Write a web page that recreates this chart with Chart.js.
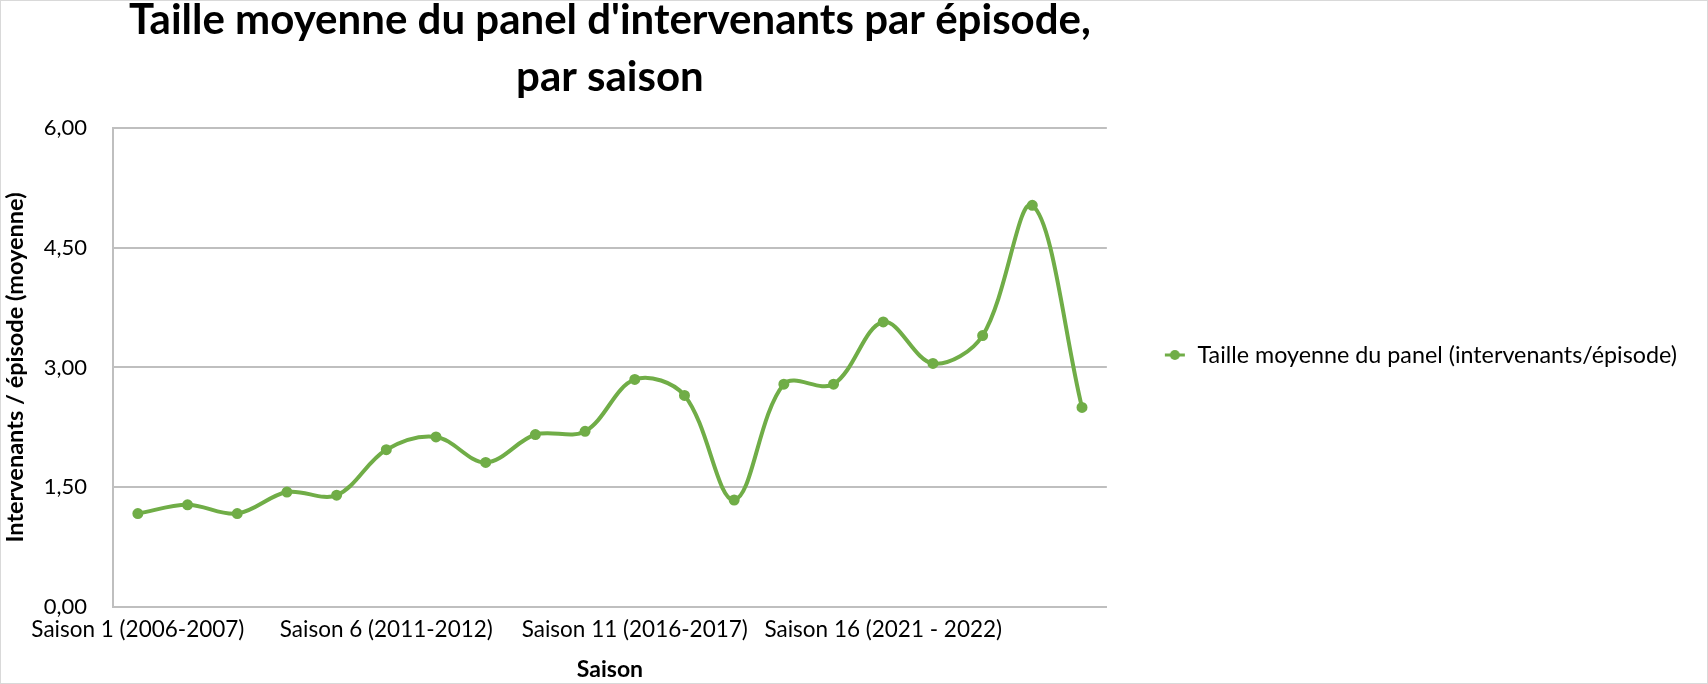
<!DOCTYPE html>
<html lang="fr">
<head>
<meta charset="utf-8">
<title>Taille moyenne du panel</title>
<script src="https://cdn.jsdelivr.net/npm/chart.js@4.4.1/dist/chart.umd.min.js"></script>
<style>
    html, body { margin: 0; padding: 0; background: #fff; }
    #wrap {
        width: 1708px;
        height: 684px;
        box-sizing: border-box;
        border: 1px solid #d9d9d9;
        position: relative;
    }
    canvas { display: block; }
</style>
</head>
<body>
<div id="wrap"><canvas id="panelChart"></canvas></div>
<script>
// Saisons (20 catégories)
const seasons = [
    'Saison 1 (2006-2007)', 'Saison 2 (2007-2008)', 'Saison 3 (2008-2009)',
    'Saison 4 (2009-2010)', 'Saison 5 (2010-2011)', 'Saison 6 (2011-2012)',
    'Saison 7 (2012-2013)', 'Saison 8 (2013-2014)', 'Saison 9 (2014-2015)',
    'Saison 10 (2015-2016)', 'Saison 11 (2016-2017)', 'Saison 12 (2017-2018)',
    'Saison 13 (2018-2019)', 'Saison 14 (2019-2020)', 'Saison 15 (2020-2021)',
    'Saison 16 (2021 - 2022)', 'Saison 17 (2022 - 2023)', 'Saison 18 (2023 - 2024)',
    'Saison 19 (2024 - 2025)', 'Saison 20 (2025 - 2026)'
];

// intervenants / épisode (moyenne)
const panelSize = [
    1.17, 1.28, 1.17, 1.44, 1.40, 1.97, 2.13, 1.81, 2.16, 2.20,
    2.85, 2.65, 1.34, 2.79, 2.79, 3.57, 3.05, 3.40, 5.03, 2.50
];

const yTicks = [0, 1.5, 3, 4.5, 6];

const seriesName = 'Taille moyenne du panel (intervenants/épisode)';
const chartTitle = ["Taille moyenne du panel d'intervenants par épisode,", 'par saison'];
const xTitle = 'Saison';
const yTitle = 'Intervenants / épisode (moyenne)';

const green = '#70ad47';
const gridGray = '#bfbfbf';
const FONT = "Lato, 'Open Sans', sans-serif";

// legend marker: short line with a dot, like Excel
function legendMarker() {
    const c = document.createElement('canvas');
    c.width = 22;
    c.height = 12;
    const g = c.getContext('2d');
    g.strokeStyle = green;
    g.lineWidth = 3;
    g.beginPath();
    g.moveTo(1, 6);
    g.lineTo(21, 6);
    g.stroke();
    g.fillStyle = green;
    g.beginPath();
    g.arc(11, 6, 5, 0, Math.PI * 2);
    g.fill();
    return c;
}

Chart.defaults.font.family = FONT;
Chart.defaults.color = '#000';

const ctx = document.getElementById('panelChart').getContext('2d');
const frNum = new Intl.NumberFormat('fr-FR', { minimumFractionDigits: 2, maximumFractionDigits: 2 });

new Chart(ctx, {
    type: 'line',
    data: {
        labels: seasons,
        datasets: [{
            label: seriesName,
            data: panelSize,
            borderColor: green,
            backgroundColor: green,
            borderWidth: 4,
            tension: 0.35,
            pointRadius: 4.5,
            pointBorderWidth: 2,
            pointBackgroundColor: green,
            pointBorderColor: green,
            fill: false
        }]
    },
    options: {
        responsive: true,
        maintainAspectRatio: false,
        animation: false,
        layout: {
            // right padding: plot should end near x=1107
            padding: { left: 0, right: 20, top: 0, bottom: 0 }
        },
        plugins: {
            title: {
                display: true,
                text: chartTitle,
                fullSize: false,
                color: '#000',
                font: { size: 42, weight: 'bold', lineHeight: 1.38 },
                padding: { top: -10, bottom: 21 }
            },
            legend: {
                position: 'right',
                maxWidth: 599,
                // empty title only nudges the entry down a little
                title: { display: true, text: '', font: { size: 10 }, padding: { top: 7, bottom: 7 } },
                labels: {
                    usePointStyle: true,
                    pointStyleWidth: 22,
                    boxWidth: 22,
                    padding: 57,
                    color: '#000',
                    font: { size: 23.3 },
                    generateLabels: function(chart) {
                        const items = Chart.defaults.plugins.legend.labels.generateLabels(chart);
                        items.forEach(it => { it.pointStyle = legendMarker(); });
                        return items;
                    }
                }
            },
            tooltip: { enabled: false }
        },
        scales: {
            x: {
                offset: true,
                grid: { display: false, drawTicks: false },
                border: { display: true, color: gridGray, width: 2 },
                afterFit: function(axis) { axis.height = 76; },
                ticks: {
                    autoSkip: false,
                    maxRotation: 0,
                    padding: 9,
                    color: '#000',
                    font: { size: 22.5 },
                    callback: function(value, index) {
                        return index % 5 === 0 ? this.getLabelForValue(value) : '';
                    }
                },
                title: {
                    display: true,
                    text: xTitle,
                    color: '#000',
                    font: { size: 23, weight: 'bold' },
                    padding: { top: 0, bottom: 0 }
                }
            },
            y: {
                min: 0,
                max: 6,
                afterBuildTicks: function(axis) {
                    axis.ticks = yTicks.map(v => ({ value: v }));
                },
                afterFit: function(axis) { axis.width = 112; },
                grid: { color: gridGray, lineWidth: 2, drawTicks: false },
                border: { display: true, color: gridGray, width: 2 },
                ticks: {
                    padding: 26,
                    color: '#000',
                    font: { size: 22 },
                    callback: function(value) {
                        return frNum.format(value);
                    }
                },
                title: {
                    display: true,
                    text: yTitle,
                    color: '#000',
                    font: { size: 23.5, weight: 'bold' },
                    padding: { top: 0, bottom: 0 }
                }
            }
        }
    }
});
</script>
</body>
</html>
